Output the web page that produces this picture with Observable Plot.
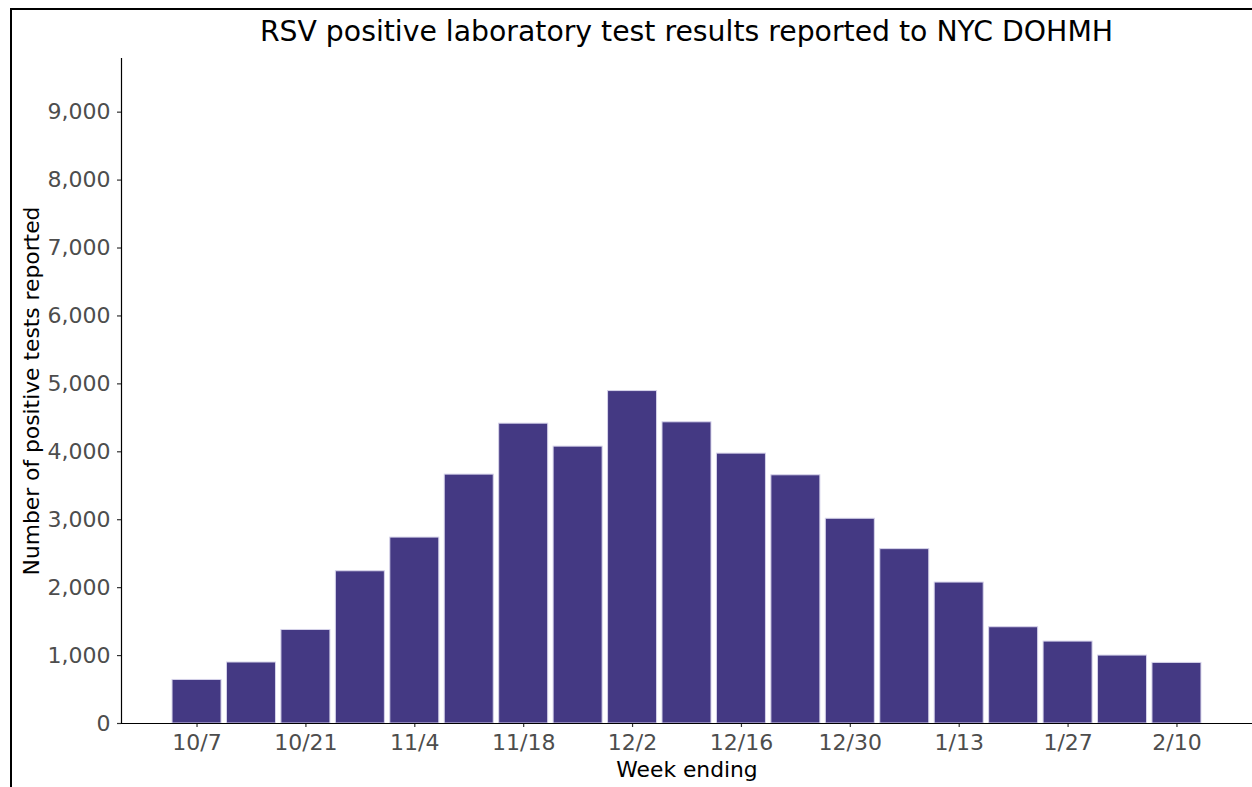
<!DOCTYPE html>
<html><head><meta charset="utf-8">
<script src="https://cdn.jsdelivr.net/npm/d3@7"></script>
<script src="https://cdn.jsdelivr.net/npm/@observablehq/plot@0.6"></script>
<style>
body{margin:0;background:#fff;font-family:"DejaVu Sans",sans-serif;}
#wrap{position:relative;width:1252px;height:787px;overflow:hidden;background:#fff;}
#border{position:absolute;left:10px;top:8px;width:1300px;height:900px;border-left:2px solid #000;border-top:2px solid #000;}
#title{position:absolute;left:121px;width:1131px;top:18px;text-align:center;font-size:28.3px;line-height:28px;color:#000;white-space:nowrap;}
#chart{position:absolute;left:0;top:0;}
</style></head><body>
<div id="wrap"><div id="border"></div><div id="title">RSV positive laboratory test results reported to NYC DOHMH</div><div id="chart"></div></div>
<script>
const weeks = ["10/7","10/14","10/21","10/28","11/4","11/11","11/18","11/25","12/2","12/9","12/16","12/23","12/30","1/6","1/13","1/20","1/27","2/3","2/10"];
const counts = [641,898,1377,2241,2737,3664,4414,4076,4894,4434,3973,3654,3014,2567,2075,1417,1206,1000,892];
const xTickLabels = ["10/7","10/21","11/4","11/18","12/2","12/16","12/30","1/13","1/27","2/10"];
const yTicks = [0,1000,2000,3000,4000,5000,6000,7000,8000,9000];
const xTitle = "Week ending";
const yTitle = "Number of positive tests reported";

const data = weeks.map((w, i) => ({week: w, count: counts[i]}));

const chart = Plot.plot({
  width: 1252, height: 787,
  marginTop: 58, marginBottom: 64, marginLeft: 121, marginRight: 0,
  style: {fontFamily: "DejaVu Sans", background: "transparent", overflow: "visible", color: "#000"},
  x: {type: "band", domain: weeks, paddingInner: 0.1, paddingOuter: 0.9375, round: false, label: null},
  y: {domain: [0, 9790], label: null},
  marks: [
    Plot.barY(data, {x: "week", y: "count", fill: "#443983", stroke: "#d6d3ea", strokeWidth: 1}),
    Plot.axisX({ticks: xTickLabels, tickSize: 4, tickPadding: 7, fontSize: 22, fill: "#4d4d4d", stroke: "#333", strokeWidth: 1.2, label: null}),
    Plot.axisY({ticks: yTicks, tickFormat: d3.format(","), tickSize: 4, tickPadding: 7, fontSize: 22, fill: "#4d4d4d", stroke: "#333", strokeWidth: 1.2, label: null}),
    Plot.frame({anchor: "left", stroke: "#000", strokeWidth: 1.2}),
    Plot.frame({anchor: "bottom", stroke: "#000", strokeWidth: 1.2}),
    Plot.text([xTitle], {frameAnchor: "bottom", dy: 53, fontSize: 21.8, fill: "#000"}),
    Plot.text([yTitle], {frameAnchor: "left", dx: -89, rotate: -90, textAnchor: "middle", fontSize: 21.8, fill: "#000"})
  ]
});
document.getElementById("chart").appendChild(chart);
</script>
</body></html>
